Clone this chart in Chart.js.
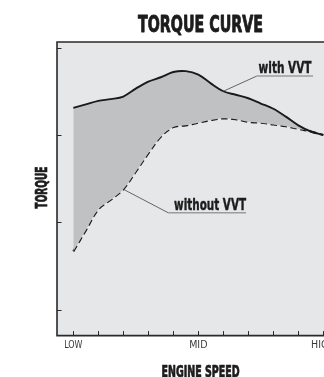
<!DOCTYPE html>
<html>
<head>
<meta charset="utf-8">
<script src="https://cdn.jsdelivr.net/npm/chart.js@4/dist/chart.umd.min.js"></script>
<style>
  html, body { margin: 0; padding: 0; background: #fff; overflow: hidden; }
  #wrap { width: 345px; height: 377px; }
</style>
</head>
<body>
<div id="wrap"><canvas id="torque" width="345" height="377"></canvas></div>
<script>
// engine speed positions (0 = low, 5 = mid, 10 = high)
const speedPos = [0, 0.5, 1, 1.5, 2, 2.5, 3, 3.5, 4, 4.5, 5, 5.5, 6, 6.5, 7, 7.5, 8, 8.5, 9, 9.5, 10];
const withVVT = [23.1, 23.5, 23.9, 24.1, 24.4, 25.3, 26.1, 26.6, 27.2, 27.3, 26.9, 25.9, 25.0, 24.6, 24.2, 23.6, 23.0, 22.1, 21.1, 20.4, 20.0];
const withoutVVT = [6.7, 9.1, 11.5, 12.6, 13.8, 15.8, 17.9, 19.8, 20.9, 21.1, 21.4, 21.7, 21.9, 21.8, 21.5, 21.4, 21.2, 21.0, 20.7, 20.4, 20.0];

const speedTicks = [0, 1, 2, 3, 4, 5, 6, 7, 8, 9, 10];
const speedLabels = { 0: 'LOW', 5: 'MID', 10: 'HIGH' };
const torqueTicks = [0, 10, 20, 30];

const BOLD = '"DejaVu Sans Condensed", "Liberation Sans Narrow", sans-serif';
const INK = '#1c1c1c';

// text squeezed horizontally to a given width (the heading face is very narrow)
function narrowText(ctx, text, x, y, font, width, rotate, heavy) {
  ctx.save();
  ctx.font = font;
  const sx = width / ctx.measureText(text).width;
  ctx.translate(x, y);
  if (rotate) ctx.rotate(-Math.PI / 2);
  ctx.scale(sx, 1);
  ctx.textAlign = 'center';
  ctx.textBaseline = 'alphabetic';
  ctx.fillText(text, 0, 0);
  if (heavy) {
    ctx.strokeStyle = ctx.fillStyle;
    ctx.lineWidth = heavy;
    ctx.lineJoin = 'round';
    ctx.strokeText(text, 0, 0);
  }
  ctx.restore();
}

// callouts: label anchored on a series point, leader to an underlined label
const callouts = [
  { text: 'with VVT', series: withVVT, at: 12, elbow: [7.34, 26.74], end: 9.59, tx: 8.47, ty: 27.03, w: 53 },
  { text: 'without VVT', series: withoutVVT, at: 4, elbow: [3.79, 11.12], end: 6.91, tx: 5.47, ty: 11.43, w: 72 }
];

const frame = {
  id: 'frame',
  beforeDatasetsDraw(chart) {
    const { ctx, chartArea: a } = chart;
    ctx.save();
    ctx.fillStyle = '#e6e7e8';
    ctx.fillRect(a.left, a.top, a.right - a.left, a.bottom - a.top);
    ctx.restore();
  },
  afterDatasetsDraw(chart) {
    const { ctx, chartArea: a } = chart;
    const xs = chart.scales.x, ys = chart.scales.y;
    ctx.save();

    // border: left, top, bottom
    ctx.strokeStyle = '#2a2a2a';
    ctx.lineWidth = 1.6;
    ctx.beginPath();
    ctx.moveTo(a.right + 2, a.top);
    ctx.lineTo(a.left, a.top);
    ctx.lineTo(a.left, a.bottom);
    ctx.lineTo(a.right + 2, a.bottom);
    ctx.stroke();

    // inward tick marks
    ctx.lineWidth = 1;
    ctx.beginPath();
    speedTicks.forEach(v => {
      const px = Math.round(xs.getPixelForValue(v)) + 0.5;
      ctx.moveTo(px, a.bottom);
      ctx.lineTo(px, a.bottom - 4.5);
    });
    torqueTicks.forEach(v => {
      const py = Math.round(ys.getPixelForValue(v)) + 0.5;
      ctx.moveTo(a.left, py);
      ctx.lineTo(a.left + 4.5, py);
    });
    ctx.stroke();

    // speed labels
    ctx.fillStyle = '#3a3a3a';
    Object.keys(speedLabels).forEach(k => {
      narrowText(ctx, speedLabels[k], xs.getPixelForValue(+k), a.bottom + 12.8,
        '10px "Liberation Sans Narrow", "DejaVu Sans Condensed", sans-serif',
        speedLabels[k].length * 6.1, false, 0);
    });

    // callouts
    callouts.forEach(c => {
      const x0 = xs.getPixelForValue(speedPos[c.at]);
      const y0 = ys.getPixelForValue(c.series[c.at]);
      const ex = xs.getPixelForValue(c.elbow[0]);
      const ey = ys.getPixelForValue(c.elbow[1]);
      ctx.strokeStyle = '#444';
      ctx.lineWidth = 0.8;
      ctx.beginPath();
      ctx.moveTo(x0, y0);
      ctx.lineTo(ex, ey);
      ctx.stroke();
      ctx.strokeStyle = '#9c9c9c';
      ctx.lineWidth = 1.6;
      ctx.beginPath();
      ctx.moveTo(ex, ey);
      ctx.lineTo(xs.getPixelForValue(c.end), ey);
      ctx.stroke();
      ctx.fillStyle = INK;
      narrowText(ctx, c.text, xs.getPixelForValue(c.tx), ys.getPixelForValue(c.ty),
        'bold 15px ' + BOLD, c.w, false, 0.4);
    });

    // headings
    ctx.fillStyle = INK;
    narrowText(ctx, 'TORQUE CURVE', 200.5, 32, 'bold 23px ' + BOLD, 125, false, 0.9);
    narrowText(ctx, 'TORQUE', 46.5, 187.5, 'bold 16px ' + BOLD, 42, true, 0.7);
    narrowText(ctx, 'ENGINE SPEED', 200.5, 377, 'bold 15px ' + BOLD, 78, false, 0.7);
    ctx.restore();
  }
};

new Chart(document.getElementById('torque'), {
  type: 'line',
  data: {
    labels: speedPos,
    datasets: [
      {
        label: 'with VVT',
        data: speedPos.map((x, i) => ({ x, y: withVVT[i] })),
        borderColor: '#1a1a1a',
        borderWidth: 1.9,
        backgroundColor: '#c0c1c3',
        fill: '+1',
        tension: 0.35,
        pointRadius: 0
      },
      {
        label: 'without VVT',
        data: speedPos.map((x, i) => ({ x, y: withoutVVT[i] })),
        borderColor: '#1a1a1a',
        borderWidth: 2.1,
        borderDash: [6.5, 3.5],
        fill: false,
        tension: 0.35,
        pointRadius: 0
      }
    ]
  },
  options: {
    responsive: false,
    animation: false,
    devicePixelRatio: 1,
    layout: { padding: { left: 57, top: 42, right: 6.7, bottom: 41.4 } },
    plugins: { legend: { display: false }, tooltip: { enabled: false }, title: { display: false } },
    scales: {
      x: { type: 'linear', display: false, min: -0.652, max: 10.6 },
      y: { type: 'linear', display: false, min: -2.93, max: 30.63 }
    }
  },
  plugins: [frame]
});
</script>
</body>
</html>
